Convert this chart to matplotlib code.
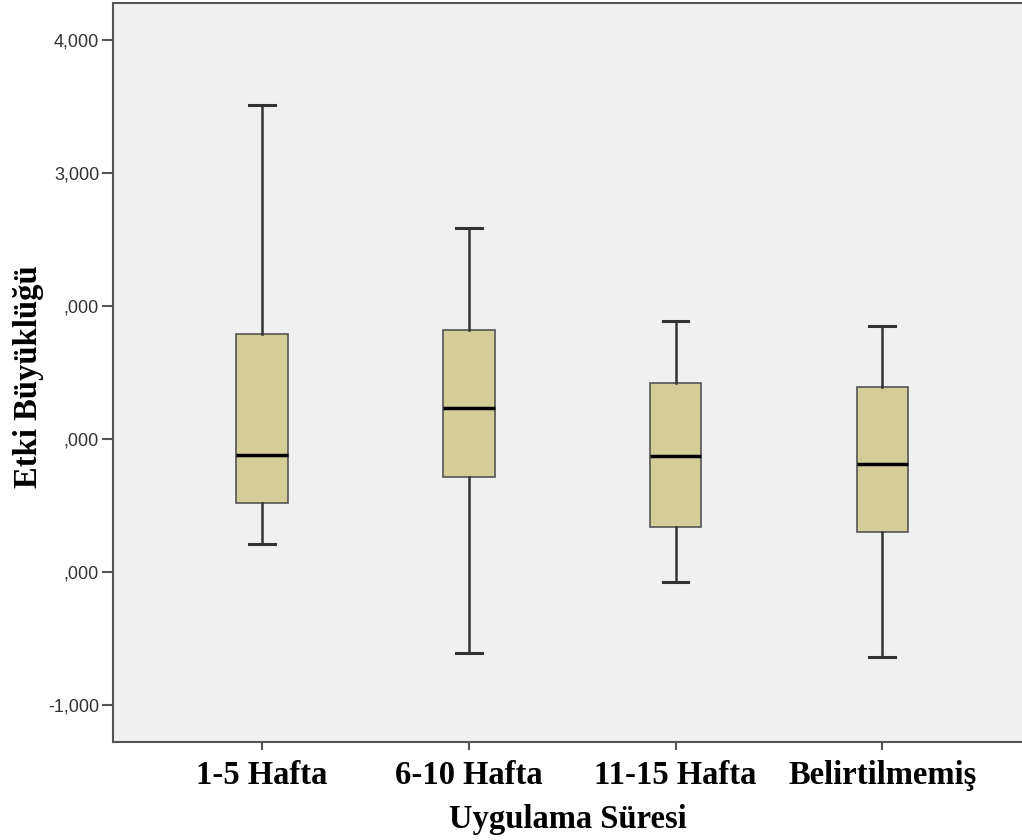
import matplotlib.pyplot as plt

# Uygulama süresine göre etki büyüklüğü (kutu grafiği değerleri)
gruplar = ['1-5 Hafta', '6-10 Hafta', '11-15 Hafta', 'Belirtilmemiş']
alt_biyik = [0.21, -0.61, -0.08, -0.64]
q1 = [0.52, 0.71, 0.34, 0.30]
medyan = [0.88, 1.23, 0.87, 0.81]
q3 = [1.79, 1.82, 1.42, 1.39]
ust_biyik = [3.51, 2.59, 1.89, 1.85]

y_ticks = [4, 3, 2, 1, 0, -1]
y_tick_labels = ['4,000', '3,000', ',000', ',000', ',000', '-1,000']

stats = []
for i in range(len(gruplar)):
    stats.append({
        'label': gruplar[i],
        'whislo': alt_biyik[i],
        'q1': q1[i],
        'med': medyan[i],
        'q3': q3[i],
        'whishi': ust_biyik[i],
        'fliers': [],
    })

fig = plt.figure(figsize=(10.22, 8.4), dpi=100)
ax = fig.add_axes([0.1106, 0.1167, 0.8904, 0.8797])
ax.set_facecolor('#f0f0f0')

ax.bxp(stats, positions=[1, 2, 3, 4], widths=0.25, patch_artist=True,
       boxprops=dict(facecolor='#d3ce97', edgecolor='#555555', linewidth=1.2),
       medianprops=dict(color='black', linewidth=2.5),
       whiskerprops=dict(color='#333333', linewidth=1.8),
       capprops=dict(color='#333333', linewidth=2.2),
       capwidths=0.125)

ax.set_xlim(0.28, 4.68)
ax.set_ylim(-1.28, 4.28)

serif = dict(fontsize=23.5, fontweight='bold', family='Liberation Serif')

ax.set_yticks(y_ticks)
ax.set_yticklabels(y_tick_labels, fontsize=13, color='#333333', family='Liberation Sans')
ax.set_xticks([1, 2, 3, 4])
ax.set_xticklabels(gruplar, **serif)
ax.tick_params(axis='x', length=6, width=1.5, color='#555555', pad=7)
ax.tick_params(axis='y', length=8, width=1.5, color='#555555', pad=2)

for side in ['left', 'bottom', 'top']:
    ax.spines[side].set_color('#555555')
    ax.spines[side].set_linewidth(1.5)
ax.spines['right'].set_visible(False)

ax.set_xlabel('Uygulama Süresi', labelpad=9, **serif)
ax.set_ylabel('Etki Büyüklüğü', **serif)
ax.yaxis.set_label_coords(-0.076, 0.495)

fig.savefig('out.png', dpi=100)
